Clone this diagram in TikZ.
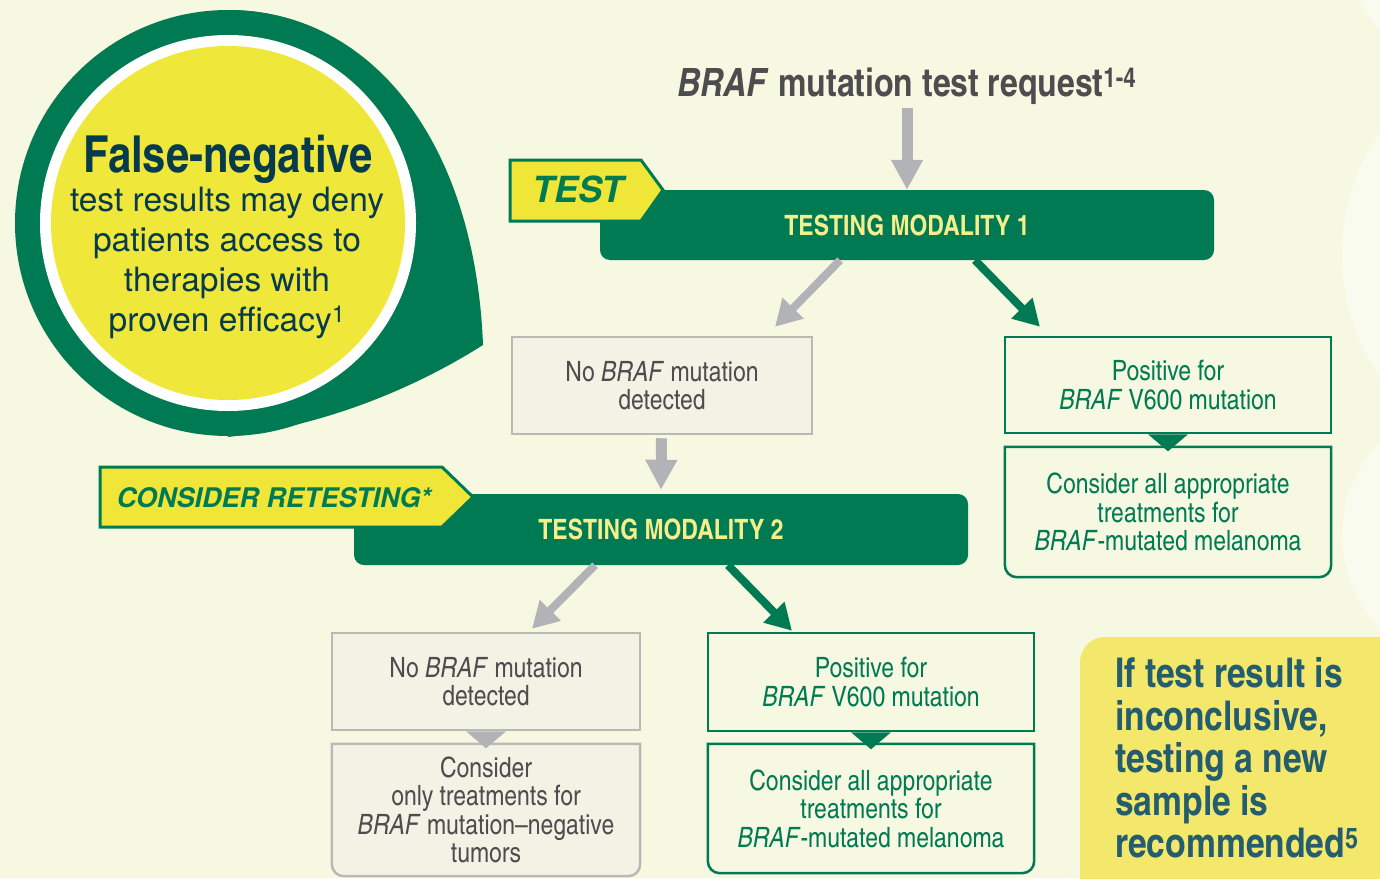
\documentclass[tikz,border=0pt]{standalone}
\usepackage{fontspec}
\setmainfont{TeX Gyre Heros}
\newfontfamily\condfont{texgyreheroscn}[Extension=.otf,UprightFont=*-regular,BoldFont=*-bold,ItalicFont=*-italic,BoldItalicFont=*-bolditalic]
\usetikzlibrary{arrows.meta,backgrounds}
\pgfdeclarelayer{backdrop}
\pgfsetlayers{backdrop,background,main}
\definecolor{mgreen}{RGB}{0,122,83}
\definecolor{cream}{RGB}{247,248,226}
\definecolor{boxfill}{RGB}{243,243,229}
\definecolor{tagyellow}{RGB}{239,230,55}
\definecolor{badgeyellow}{RGB}{239,232,58}
\definecolor{noteyellow}{RGB}{244,232,108}
\definecolor{barfont}{RGB}{246,238,140}
\definecolor{navy}{RGB}{8,58,78}
\definecolor{noteteal}{RGB}{36,94,110}
\definecolor{arrowgray}{RGB}{178,179,183}
\definecolor{boxgray}{RGB}{185,186,180}
\definecolor{txtgray}{RGB}{77,77,79}
\begin{document}
\begin{tikzpicture}[x=1pt,y=-1pt,
		greybox/.style={draw=boxgray,line width=2.5pt,fill=boxfill,text=txtgray,align=center,inner sep=0pt},
		greenbox/.style={draw=mgreen,line width=2.5pt,text=mgreen,align=center,inner sep=0pt},
		openbox/.style={align=center,inner sep=0pt},
		modbar/.style={fill=mgreen,rounded corners=10pt,text=barfont,inner sep=0pt},
		taglabel/.style={text=mgreen,inner sep=0pt},
		greyarrow/.style={draw=arrowgray,line width=11pt,-{Triangle[width=30pt,length=30pt]}},
		greyslant/.style={draw=arrowgray,line width=8pt,-{Triangle[width=28pt,length=26pt]}},
		greenslant/.style={draw=mgreen,line width=8pt,-{Triangle[width=28pt,length=26pt]}}]
		\newcommand{\myfontbox}{\condfont\fontsize{28}{28.5}\selectfont}
		\newcommand{\myfontbar}{\condfont\bfseries\fontsize{28}{30}\selectfont}
		\newcommand{\braf}{\textit{BRAF}}
		%Page and decoration at the right edge
		\useasboundingbox (0,0) rectangle (1380,878);
		\clip (0,0) rectangle (1380,878);
		\begin{pgfonlayer}{backdrop}
			\fill[cream] (0,0) rectangle (1380,878);
			\fill[white,opacity=0.45] (1480,-60) circle[radius=135];
			\fill[white,opacity=0.45] (1560,255) circle[radius=218];
			\fill[white,opacity=0.45] (1475,535) circle[radius=133];
		\end{pgfonlayer}
		%Badge at the top left
		\fill[mgreen] (228,223) circle[radius=213];
		\fill[mgreen] (228,10) .. controls (370,10) and (475,140) .. (483,345) .. controls (420,385) and (330,425) .. (228,437) -- cycle;
		\fill[white] (228,223) circle[radius=188];
		\fill[badgeyellow] (228,223) circle[radius=177];
		\node[text=navy] (fneg) at (228,159) {\condfont\bfseries\fontsize{51}{54}\selectfont False-negative};
		\node[text=navy,align=center,font=\fontsize{33.5}{40}\selectfont] (fbody) at (227,263) {test results may deny\\patients access to\\therapies with\\proven efficacy\textsuperscript{1}};
		%Request
		\node[text=txtgray] (req) at (907,86) {\condfont\bfseries\fontsize{39}{42}\selectfont\textit{BRAF} mutation test request\textsuperscript{1-4}};
		%Testing modality 1
		\node[modbar,minimum width=614,minimum height=70] (bar1) at (907,225) {\myfontbar TESTING MODALITY 1};
		\filldraw[fill=tagyellow,draw=mgreen,line width=3pt] (510,160) -- (641,160) -- (663,190) -- (641,221) -- (510,221) -- cycle;
		\node[taglabel] (testlbl) at (578,189) {\bfseries\itshape\fontsize{36}{40}\selectfont TEST};
		%Results of modality 1
		\node[greybox,minimum width=300,minimum height=97,font=\myfontbox] (neg1) at (662,385.5) {No \braf{} mutation\\detected};
		\node[greenbox,minimum width=326,minimum height=96,font=\myfontbox] (pos1) at (1168,385) {Positive for\\\braf{} V600 mutation};
		\node[openbox,text=mgreen,minimum width=326,minimum height=130,font=\myfontbox] (con1) at (1168,512) {Consider all appropriate\\treatments for\\\braf-mutated melanoma};
		\draw[greyarrow] (req) -- (bar1.north);
		\draw[greyslant] ([xshift=-67pt]bar1.south) -- ([xshift=113pt,yshift=9pt]neg1.north);
		\draw[greenslant] ([xshift=68pt]bar1.south) -- ([xshift=-128pt,yshift=9pt]pos1.north);
		%Testing modality 2
		\node[modbar,minimum width=614,minimum height=71] (bar2) at (661,529.5) {\myfontbar TESTING MODALITY 2};
		\draw[greyarrow,shorten <=3pt] (neg1) -- ([yshift=4pt]bar2.north);
		\filldraw[fill=tagyellow,draw=mgreen,line width=3pt] (100,467) -- (442,467) -- (473,497) -- (442,527) -- (100,527) -- cycle;
		\node[taglabel] (retestlbl) at (274,498) {\bfseries\itshape\fontsize{27}{30}\selectfont CONSIDER RETESTING*};
		%Results of modality 2
		\node[greybox,minimum width=308,minimum height=97,font=\myfontbox] (neg2) at (486,681.5) {No \braf{} mutation\\detected};
		\node[openbox,text=txtgray,minimum width=308,minimum height=132,font=\myfontbox] (con2neg) at (486,810) {Consider\\only treatments for\\\braf{} mutation–negative\\tumors};
		\node[greenbox,minimum width=326,minimum height=98,font=\myfontbox] (pos2) at (871,682) {Positive for\\\braf{} V600 mutation};
		\node[openbox,text=mgreen,minimum width=326,minimum height=129,font=\myfontbox] (con2) at (871,808.5) {Consider all appropriate\\treatments for\\\braf-mutated melanoma};
		\draw[greyslant] ([xshift=-66pt]bar2.south) -- ([xshift=46pt,yshift=3pt]neg2.north);
		\draw[greenslant] ([xshift=67pt]bar2.south) -- ([xshift=-79pt,yshift=1pt]pos2.north);
		%Outlines with rounded lower corners
		\begin{pgfonlayer}{background}
			\draw[draw=mgreen,line width=2.5pt] (con1.north west) [rounded corners=12pt] -- (con1.south west) -- (con1.south east) [sharp corners] -- (con1.north east) -- cycle;
			\draw[draw=mgreen,line width=2.5pt] (con2.north west) [rounded corners=12pt] -- (con2.south west) -- (con2.south east) [sharp corners] -- (con2.north east) -- cycle;
			\filldraw[fill=boxfill,draw=boxgray,line width=2.5pt] (con2neg.north west) [rounded corners=12pt] -- (con2neg.south west) -- (con2neg.south east) [sharp corners] -- (con2neg.north east) -- cycle;
		\end{pgfonlayer}
		%Small pointers between the boxes
		\fill[mgreen] ([xshift=-20pt]pos1.south) -- ([xshift=20pt]pos1.south) -- ([yshift=-17pt]pos1.south) -- cycle;
		\fill[mgreen] ([xshift=-20pt]pos2.south) -- ([xshift=20pt]pos2.south) -- ([yshift=-17pt]pos2.south) -- cycle;
		\fill[arrowgray] ([xshift=-20pt]neg2.south) -- ([xshift=20pt]neg2.south) -- ([yshift=-17pt]neg2.south) -- cycle;
		%Note at the bottom right
		\fill[noteyellow,rounded corners=25pt] (1080,637) rectangle (1420,910);
		\node[anchor=west,align=left,text=noteteal,inner sep=0pt,font=\condfont\bfseries\fontsize{41}{42.5}\selectfont] (note) at (1115,758) {If test result is\\inconclusive,\\testing a new\\sample is\\recommended\textsuperscript{5}};
\end{tikzpicture}
\end{document}
